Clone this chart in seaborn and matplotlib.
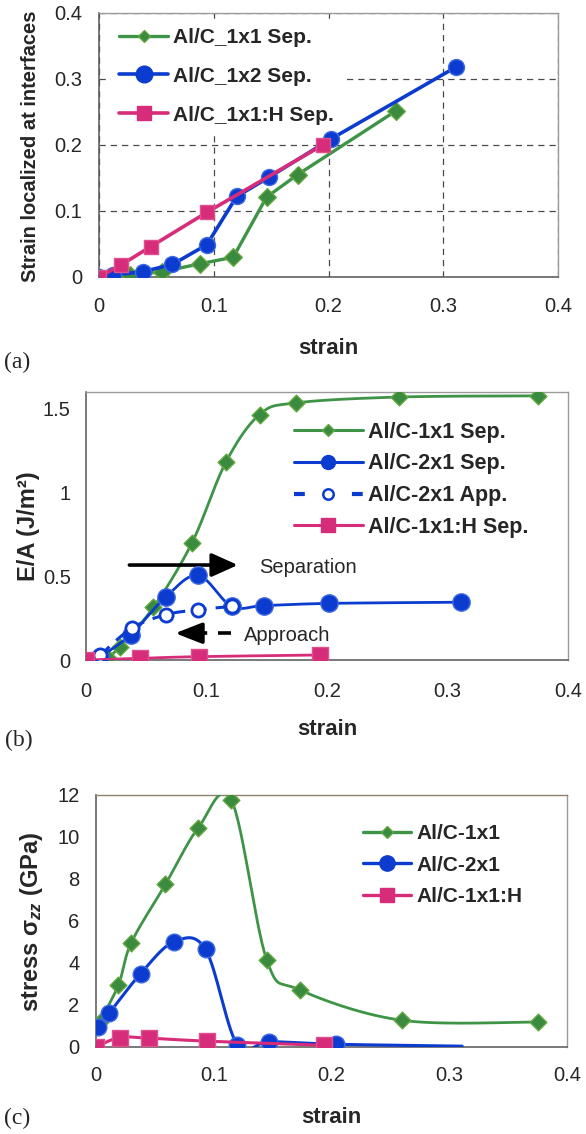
import numpy as np
import matplotlib
matplotlib.use("Agg")
import matplotlib.pyplot as plt
from matplotlib.lines import Line2D
from matplotlib.ticker import MultipleLocator, FuncFormatter
from matplotlib.font_manager import FontProperties
import seaborn as sns

# ---------------- data ----------------
# (a) strain localized at interfaces
a_x_11 = [0.0, 0.027, 0.055, 0.088, 0.117, 0.146, 0.173, 0.259]
a_y_11 = [0.0, 0.003, 0.008, 0.020, 0.030, 0.121, 0.155, 0.252]
a_x_12 = [0.0, 0.012, 0.038, 0.064, 0.094, 0.120, 0.148, 0.202, 0.311]
a_y_12 = [0.0, 0.003, 0.008, 0.019, 0.049, 0.122, 0.151, 0.209, 0.318]
a_x_h = [0.0, 0.019, 0.045, 0.094, 0.195]
a_y_h = [0.0, 0.018, 0.046, 0.098, 0.200]
a_labels = ["Al/C_1x1 Sep.", "Al/C_1x2 Sep.", "Al/C_1x1:H Sep."]

# (b) E/A
b_x_11 = [0.018, 0.028, 0.056, 0.088, 0.116, 0.144, 0.174, 0.260, 0.375]
b_y_11 = [0.01, 0.08, 0.315, 0.70, 1.18, 1.465, 1.535, 1.57, 1.577]
b_x_21s = [0.012, 0.037, 0.066, 0.093, 0.121, 0.148, 0.202, 0.311]
b_y_21s = [0.02, 0.15, 0.375, 0.505, 0.32, 0.325, 0.338, 0.345]
b_x_21a = [0.012, 0.038, 0.066, 0.093, 0.121]
b_y_21a = [0.03, 0.19, 0.27, 0.30, 0.32]
b_x_h = [0.0, 0.045, 0.094, 0.194]
b_y_h = [0.0, 0.01, 0.02, 0.03]
b_labels = ["Al/C-1x1 Sep.", "Al/C-2x1 Sep.", "Al/C-2x1 App.", "Al/C-1x1:H Sep."]

# (c) stress
c_x_11 = [0.003, 0.019, 0.030, 0.059, 0.087, 0.115, 0.145, 0.173, 0.260, 0.375]
c_y_11 = [1.2, 2.95, 4.97, 7.75, 10.45, 11.75, 4.15, 2.72, 1.27, 1.19]
c_x_21 = [0.002, 0.011, 0.038, 0.066, 0.093, 0.120, 0.147, 0.204, 0.311]
c_y_21 = [0.95, 1.6, 3.5, 5.0, 4.65, 0.1, 0.25, 0.13, 0.04]
c_x_h = [0.0, 0.020, 0.045, 0.094, 0.194]
c_y_h = [0.0, 0.45, 0.42, 0.28, 0.08]
c_labels = ["Al/C-1x1", "Al/C-2x1", "Al/C-1x1:H"]

# ---------------- style ----------------
sns.set_theme(style="white")
plt.rcParams["font.family"] = ["Liberation Sans", "DejaVu Sans"]
plt.rcParams["mathtext.fontset"] = "custom"
plt.rcParams["mathtext.rm"] = "Liberation Sans:bold"
plt.rcParams["mathtext.it"] = "Liberation Sans:italic:bold"
plt.rcParams["mathtext.bf"] = "Liberation Sans:bold"

GREEN = "#3e9446"
GREEN_FACE = "#3a8a40"
GREEN_EDGE = "#62a83e"
BLUE = "#0b3ccf"
BLUE_EDGE = "#3f6be0"
MAGENTA = "#d62c7a"
MAGENTA_EDGE = "#e0508f"

fig = plt.figure(figsize=(5.86, 11.34), dpi=100)


def smooth(x, y, sx, sy, n=30):
    """Excel-like smoothed line (Catmull-Rom Bezier) computed in screen space."""
    P = np.column_stack([np.asarray(x, float) * sx, np.asarray(y, float) * sy])
    if len(P) < 3:
        return np.asarray(x), np.asarray(y)
    ext = np.vstack([P[0], P, P[-1]])
    out = []
    t = np.linspace(0, 1, n, endpoint=False)[:, None]
    for i in range(1, len(ext) - 2):
        p0, p1, p2, p3 = ext[i - 1], ext[i], ext[i + 1], ext[i + 2]
        c1 = p1 + (p2 - p0) / 6.0
        c2 = p2 - (p3 - p1) / 6.0
        seg = ((1 - t) ** 3) * p1 + 3 * ((1 - t) ** 2) * t * c1 + 3 * (1 - t) * t ** 2 * c2 + t ** 3 * p2
        out.append(seg)
    out.append(P[-1][None, :])
    out = np.vstack(out)
    return out[:, 0] / sx, out[:, 1] / sy


def style_axes(ax, ymax, ymajor, yminor, xpad, ypad):
    ax.set_xlim(0, 0.4)
    ax.set_ylim(0, ymax)
    ax.xaxis.set_major_locator(MultipleLocator(0.1))
    ax.xaxis.set_minor_locator(MultipleLocator(0.02))
    ax.yaxis.set_major_locator(MultipleLocator(ymajor))
    ax.yaxis.set_minor_locator(MultipleLocator(yminor))
    fmt = FuncFormatter(lambda v, p: f"{v:g}")
    ax.xaxis.set_major_formatter(fmt)
    ax.yaxis.set_major_formatter(fmt)
    ax.tick_params(which="both", color="#555555", width=1)
    ax.tick_params(which="major", direction="out", length=4)
    ax.tick_params(which="minor", direction="in", length=4)
    ax.tick_params(axis="x", labelsize=14.5, pad=xpad)
    ax.tick_params(axis="y", labelsize=14.5, pad=ypad)
    for s in ["left", "bottom"]:
        ax.spines[s].set_color("#555555")
        ax.spines[s].set_linewidth(1.1)
    for s in ["top", "right"]:
        ax.spines[s].set_color("#9a9a9a")
        ax.spines[s].set_linewidth(1.0)
        ax.spines[s].set_visible(True)


def series(ax, x, y, color, lw, marker, ms, face, edge, mew, z, ls="-", smooth_line=False,
           sx=1, sy=1, mark_n=None):
    if smooth_line:
        lx, ly = smooth(x, y, sx, sy)
    else:
        lx, ly = np.asarray(x), np.asarray(y)
    sns.lineplot(x=lx, y=ly, ax=ax, sort=False, estimator=None, color=color,
                 linewidth=lw, linestyle=ls, legend=False, zorder=z)
    mx, my = (x, y) if mark_n is None else (x[:mark_n], y[:mark_n])
    sns.scatterplot(x=mx, y=my, ax=ax, marker=marker, s=ms ** 2, color=face,
                    edgecolor=edge, linewidth=mew, legend=False, zorder=z + 0.5)


legend_font = FontProperties(family="Liberation Sans", weight="bold", size=15)

# ================= (a) =================
ax = fig.add_axes([99 / 586, 1 - 277 / 1134, 459 / 586, 264 / 1134])
style_axes(ax, 0.4, 0.1, 0.02, xpad=10.5, ypad=8)
ax.set_axisbelow(True)
ax.grid(True, which="major", color="#4a4a4a", linestyle=(0, (5, 4)), linewidth=0.9, zorder=0.5)
series(ax, a_x_11, a_y_11, GREEN, 2.4, "D", 9.0, GREEN_FACE, GREEN_EDGE, 1.0, 3)
series(ax, a_x_12, a_y_12, BLUE, 2.6, "o", 11.5, BLUE, BLUE_EDGE, 1.0, 4)
series(ax, a_x_h, a_y_h, MAGENTA, 2.6, "s", 9.5, MAGENTA, MAGENTA_EDGE, 1.0, 5)
handles = [
    Line2D([], [], color=GREEN, lw=2.4, marker="D", ms=6.5, mfc=GREEN_FACE, mec=GREEN_EDGE),
    Line2D([], [], color=BLUE, lw=2.6, marker="o", ms=12, mfc=BLUE, mec=BLUE),
    Line2D([], [], color=MAGENTA, lw=2.6, marker="s", ms=10, mfc=MAGENTA, mec=MAGENTA),
]
leg = ax.legend(handles, a_labels, loc="upper left", bbox_to_anchor=(0.026, 0.975),
                borderaxespad=0, frameon=True, facecolor="white", edgecolor="none",
                framealpha=1, fancybox=False, prop=legend_font, handlelength=2.35,
                handletextpad=0.25, labelspacing=0.95, borderpad=0.4, numpoints=1)
leg.set_zorder(2.5)
ax.set_xlabel("strain", fontsize=16, fontweight="bold", va="center")
ax.xaxis.set_label_coords(0.499, -0.269)
ax.set_ylabel("Strain localized at interfaces", fontsize=14.5, fontweight="bold", va="center")
ax.yaxis.set_label_coords(-0.150, 0.496)
fig.text(17 / 586, 1 - 362 / 1134, "(a)", family="Liberation Serif", fontsize=17, ha="center", va="center")

# ================= (b) =================
ax = fig.add_axes([86 / 586, 1 - 660 / 1134, 482 / 586, 268 / 1134])
style_axes(ax, 1.6, 0.5, 0.25, xpad=11.5, ypad=7)
sx_b, sy_b = 482 / 0.4, 268 / 1.6
series(ax, b_x_11, b_y_11, GREEN, 2.0, "D", 8.5, GREEN_FACE, GREEN_EDGE, 1.0, 3,
       smooth_line=True, sx=sx_b, sy=sy_b)
series(ax, b_x_21s, b_y_21s, BLUE, 2.0, "o", 12.5, BLUE, BLUE_EDGE, 1.0, 4,
       smooth_line=True, sx=sx_b, sy=sy_b)
series(ax, b_x_21a, b_y_21a, BLUE, 2.2, "o", 9.5, "white", BLUE, 2.0, 5, ls=(0, (4, 3)),
       smooth_line=True, sx=sx_b, sy=sy_b)
series(ax, b_x_h, b_y_h, MAGENTA, 2.0, "s", 11.0, MAGENTA, MAGENTA_EDGE, 1.0, 6,
       smooth_line=True, sx=sx_b, sy=sy_b)
handles = [
    Line2D([], [], color=GREEN, lw=2.2, marker="D", ms=6.0, mfc=GREEN_FACE, mec=GREEN_EDGE),
    Line2D([], [], color=BLUE, lw=2.2, marker="o", ms=10, mfc=BLUE, mec=BLUE),
    Line2D([], [], color=BLUE, lw=3.0, ls=(0, (2.6, 11.3)), marker="o", ms=7.5, mfc="white",
           mec=BLUE, mew=1.8),
    Line2D([], [], color=MAGENTA, lw=2.2, marker="s", ms=9.5, mfc=MAGENTA, mec=MAGENTA),
]
ax.legend(handles, b_labels, loc="upper left", bbox_to_anchor=(0.413, 0.922),
          borderaxespad=0, frameon=False, prop=FontProperties(family="Liberation Sans",
          weight="bold", size=15.5), handlelength=3.2,
          handletextpad=0.25, labelspacing=0.5, borderpad=0.4, numpoints=1)
# arrows and notes
ax.annotate("", xy=(0.126, 0.567), xytext=(0.036, 0.567),
            arrowprops=dict(arrowstyle="-|>,head_length=0.8,head_width=0.36", lw=2.6,
                            color="black", shrinkA=0, shrinkB=0, mutation_scale=20))
ax.text(0.144, 0.555, "Separation", fontsize=14.5, ha="left", va="center")
ax.plot([0.120, 0.095], [0.160, 0.160], color="black", lw=2.6, dashes=(3.6, 3.0),
        solid_capstyle="butt", dash_capstyle="butt")
ax.annotate("", xy=(0.074, 0.160), xytext=(0.0955, 0.160),
            arrowprops=dict(arrowstyle="-|>,head_length=0.82,head_width=0.32", lw=2.6,
                            color="black", shrinkA=0, shrinkB=0, mutation_scale=20))
ax.text(0.131, 0.148, "Approach", fontsize=14.5, ha="left", va="center")
ax.set_xlabel("strain", fontsize=16, fontweight="bold", va="center")
ax.xaxis.set_label_coords(0.5, -0.261)
ax.set_ylabel("E/A (J/m²)", fontsize=17, fontweight="bold", va="center")
ax.yaxis.set_label_coords(-0.12, 0.5)
fig.text(19 / 586, 1 - 740 / 1134, "(b)", family="Liberation Serif", fontsize=17, ha="center", va="center")

# ================= (c) =================
ax = fig.add_axes([96 / 586, 1 - 1047 / 1134, 471 / 586, 252 / 1134])
style_axes(ax, 12, 2, 1, xpad=10, ypad=8)
ax.spines["top"].set_color("#8f8070")
sx_c, sy_c = 471 / 0.4, 252 / 12
series(ax, c_x_11, c_y_11, GREEN, 2.0, "D", 8.5, GREEN_FACE, GREEN_EDGE, 1.0, 3,
       smooth_line=True, sx=sx_c, sy=sy_c)
series(ax, c_x_21, c_y_21, BLUE, 2.2, "o", 12.0, BLUE, BLUE_EDGE, 1.0, 4,
       smooth_line=True, sx=sx_c, sy=sy_c, mark_n=len(c_x_21) - 1)
series(ax, c_x_h, c_y_h, MAGENTA, 2.2, "s", 11.5, MAGENTA, MAGENTA_EDGE, 1.0, 5,
       smooth_line=True, sx=sx_c, sy=sy_c)
handles = [
    Line2D([], [], color=GREEN, lw=2.4, marker="D", ms=6.5, mfc=GREEN_FACE, mec=GREEN_EDGE),
    Line2D([], [], color=BLUE, lw=2.4, marker="o", ms=11, mfc=BLUE, mec=BLUE),
    Line2D([], [], color=MAGENTA, lw=2.4, marker="s", ms=10.5, mfc=MAGENTA, mec=MAGENTA),
]
ax.legend(handles, c_labels, loc="upper left", bbox_to_anchor=(0.550, 0.917),
          borderaxespad=0, frameon=False, prop=legend_font, handlelength=2.3,
          handletextpad=0.25, labelspacing=0.6, borderpad=0.4, numpoints=1)
ax.set_xlabel("strain", fontsize=16, fontweight="bold", va="center")
ax.xaxis.set_label_coords(0.5, -0.278)
ax.set_ylabel("stress σ$_{zz}$ (GPa)", fontsize=17, fontweight="bold", va="center")
ax.yaxis.set_label_coords(-0.136, 0.496)
fig.text(17 / 586, 1 - 1118 / 1134, "(c)", family="Liberation Serif", fontsize=17, ha="center", va="center")

fig.savefig("out.png", dpi=100, facecolor="white")
